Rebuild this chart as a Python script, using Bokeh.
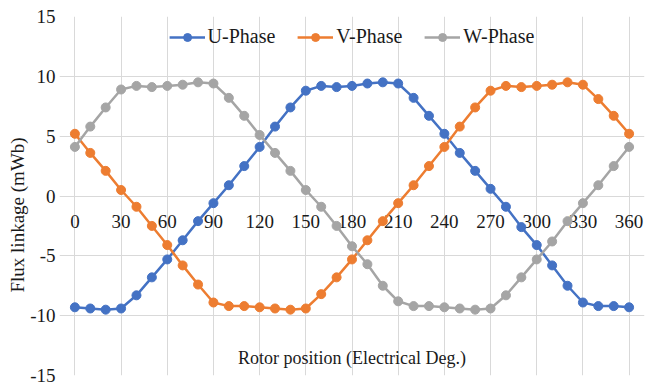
from bokeh.plotting import figure
from bokeh.models import FixedTicker, Grid, Label, Title, ColumnDataSource, Range1d
from bokeh.core.properties import value
from bokeh.embed import file_html
from bokeh.resources import INLINE

# Rotor position (electrical degrees) and flux linkage per phase (mWb)
angle = list(range(0, 361, 10))
u_phase = [-9.3, -9.4, -9.5, -9.4, -8.3, -6.8, -5.3, -3.7, -2.1, -0.6, 0.9, 2.5, 4.1,
           5.8, 7.4, 8.8, 9.2, 9.1, 9.2, 9.4, 9.5, 9.4, 8.2, 6.7, 5.2, 3.6, 2.1,
           0.6, -0.9, -2.6, -4.1, -5.8, -7.5, -8.9, -9.2, -9.2, -9.3]
v_phase = [5.2, 3.6, 2.1, 0.5, -0.9, -2.5, -4.1, -5.8, -7.4, -8.9, -9.2, -9.2, -9.3,
           -9.4, -9.5, -9.4, -8.2, -6.8, -5.3, -3.7, -2.1, -0.6, 0.9, 2.5, 4.1,
           5.8, 7.4, 8.8, 9.2, 9.1, 9.2, 9.3, 9.5, 9.3, 8.1, 6.7, 5.2]
w_phase = [4.1, 5.8, 7.4, 8.9, 9.2, 9.1, 9.2, 9.3, 9.5, 9.4, 8.2, 6.7, 5.1,
           3.6, 2.1, 0.5, -0.9, -2.5, -4.2, -5.7, -7.5, -8.8, -9.2, -9.2, -9.3,
           -9.4, -9.5, -9.4, -8.3, -6.8, -5.3, -3.8, -2.1, -0.6, 0.9, 2.5, 4.1]

x_ticks = list(range(0, 361, 30))
x_tick_labels = [str(t) for t in x_ticks]
y_ticks = [-15, -10, -5, 0, 5, 10, 15]
y_tick_labels = [str(t) for t in y_ticks]

series_names = ["U-Phase", "V-Phase", "W-Phase"]
series_colors = ["#4472C4", "#ED7D31", "#A5A5A5"]

FONT = "'Liberation Serif', 'Times New Roman', serif"
TEXT_COLOR = "#1a1a1a"
GRID_COLOR = "#d9d9d9"

# a little room either side of 0..360 so the end tick labels are not cut off
p = figure(width=658, height=385, x_range=Range1d(-10, 370), y_range=Range1d(-15, 15),
           output_backend="svg", toolbar_location=None, x_axis_location=None,
           min_border_left=59, min_border_right=14, min_border_top=16,
           min_border_bottom=10, background_fill_color="white",
           border_fill_color="white")
p.outline_line_color = None

# grid lines, limited to the 0..360 span
for g in list(p.xgrid) + list(p.ygrid):
    g.visible = False
p.add_layout(Grid(dimension=0, ticker=FixedTicker(ticks=x_ticks), bounds=(-15, 15),
                  grid_line_color=GRID_COLOR, grid_line_width=1))
p.add_layout(Grid(dimension=1, ticker=FixedTicker(ticks=y_ticks), bounds=(0, 360),
                  grid_line_color=GRID_COLOR, grid_line_width=1))

# vertical axis
yax = p.yaxis[0]
yax.ticker = FixedTicker(ticks=y_ticks)
yax.major_label_overrides = dict(zip(y_ticks, y_tick_labels))
yax.axis_line_color = None
yax.major_tick_line_color = None
yax.minor_tick_line_color = None
yax.major_tick_out = 0
yax.major_tick_in = 0
yax.major_label_standoff = 4
yax.major_label_text_font = FONT
yax.major_label_text_font_size = "19px"
yax.major_label_text_color = TEXT_COLOR

# vertical axis title
p.add_layout(Title(text="Flux linkage (mWb)", align="left", offset=83,
                   text_font=FONT, text_font_size="19px", text_font_style="normal",
                   text_color=TEXT_COLOR, standoff=0), "left")

# horizontal tick labels sit on the zero line
tick_src = ColumnDataSource(dict(x=x_ticks, y=[0] * len(x_ticks), t=x_tick_labels))
p.text(x="x", y="y", text="t", source=tick_src, text_align="center",
       text_baseline="middle", y_offset=25, text_font=value(FONT),
       text_font_size="19px", text_color=TEXT_COLOR)

# phase curves
for name, color, vals in zip(series_names, series_colors, [u_phase, v_phase, w_phase]):
    p.line(angle, vals, line_color=color, line_width=2.5, legend_label=name)
    p.scatter(angle, vals, size=9, fill_color=color, line_color=color,
              legend_label=name)

# horizontal axis title
p.add_layout(Label(x=180, y=-13.5, text="Rotor position (Electrical Deg.)",
                   text_align="center", text_baseline="middle", text_font=FONT,
                   text_font_size="18px", text_color=TEXT_COLOR))

lg = p.legend[0]
lg.location = "top_center"
lg.orientation = "horizontal"
lg.glyph_width = 36
lg.glyph_height = 20
lg.label_standoff = 3
lg.spacing = 22
lg.padding = 0
lg.margin = 9
lg.border_line_color = None
lg.background_fill_alpha = 0
lg.label_text_font = FONT
lg.label_text_font_size = "20px"
lg.label_text_color = TEXT_COLOR

open("out.html", "w").write(file_html(p, INLINE))
